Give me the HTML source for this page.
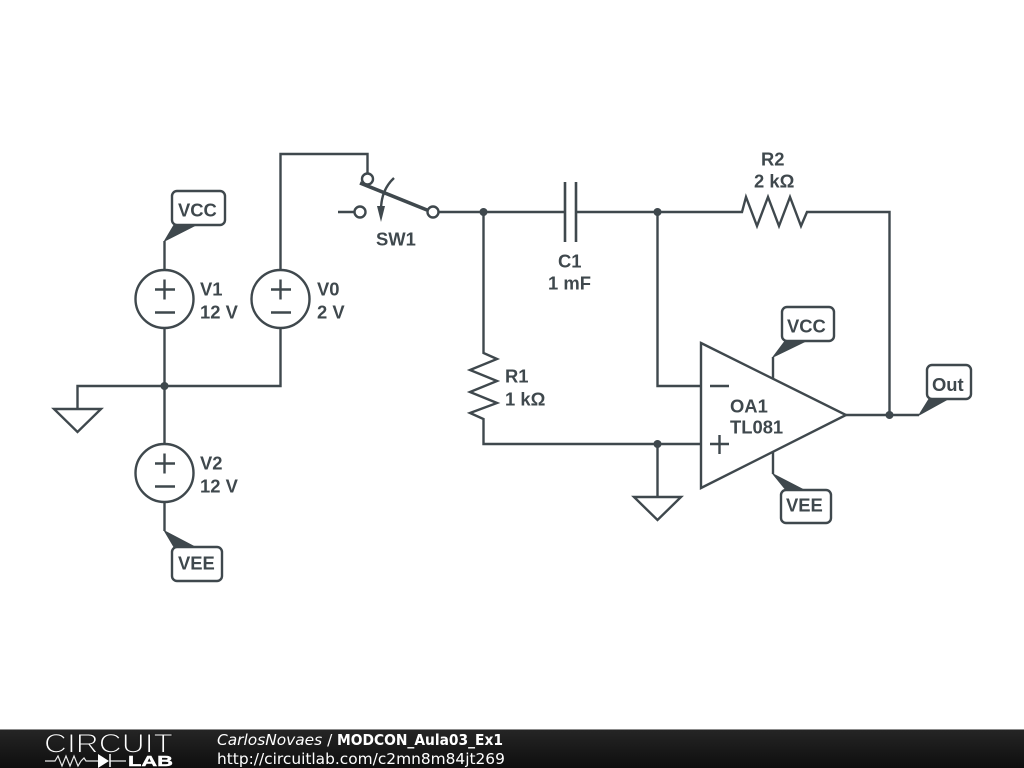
<!DOCTYPE html>
<html><head><meta charset="utf-8"><title>MODCON_Aula03_Ex1</title>
<style>html,body{margin:0;padding:0;background:#fff}svg{display:block}
.w{fill:none;stroke:#3f484d;stroke-width:2.4;stroke-linejoin:miter}
.l{font:bold 18.400px "Liberation Sans",sans-serif;fill:#3f484d}
.f{font:15.400px "DejaVu Sans",sans-serif;fill:#fff}
</style></head><body>
<svg width="1024" height="768" viewBox="0 0 1024 768" xmlns="http://www.w3.org/2000/svg">
<defs><linearGradient id="g" x1="0" y1="0" x2="0" y2="1"><stop offset="0" stop-color="#252525"/><stop offset="1" stop-color="#0e0e0e"/></linearGradient></defs>
<rect width="1024" height="768" fill="#fff"/>
<!-- wires -->
<g class="w">
<path d="M164.500 241V270M164.500 328V444M164.500 502V531M77.500 409V386H280.500V328"/>
<path d="M280.500 270V154H367.500V173"/>
<path d="M338 212H354M439 212H565M576 212H742L746 197L757 226L768 197L779 226L790 197L801 226L807 212H889.500V415"/>
<path d="M483.500 212V353L497 359L470 370L497 381L470 392L497 403L470 413L483.500 419V444H701"/>
<path d="M657.500 212V386H701M657.500 444V497"/>
<path d="M846 415H919M773 357V379M773 452V474"/>
<path d="M710 386H729M710 444H729M719.500 435V454"/>
<circle cx="164.500" cy="299" r="29"/><path d="M155 289.500H175M164.500 279.500V299.500M155 312.500H175"/>
<circle cx="280.500" cy="299" r="29"/><path d="M271 289.500H291M280.500 279.500V299.500M271 312.500H291"/>
<circle cx="164.500" cy="473" r="29"/><path d="M155 463.500H175M164.500 453.500V473.500M155 486.500H175"/>
<path d="M54 409H101L77.500 432Z"/>
<path d="M634 497H681L657.500 520Z"/>
<path d="M701 343L846 415L701 488Z"/>
<path d="M565 182V242M576 182V242" stroke-width="2.600"/>
<circle cx="367.500" cy="179" r="5.500"/><circle cx="360" cy="212" r="5.500"/><circle cx="433" cy="212" r="5.500"/>
<path d="M360 183L427 210" stroke-width="3.600"/>
<path d="M394 178Q381 190 381 210"/>
<rect x="172" y="191" width="53" height="34" rx="5"/>
<rect x="172" y="547" width="50" height="34" rx="5"/>
<rect x="782" y="307" width="52" height="34" rx="5"/>
<rect x="781" y="490" width="50" height="33" rx="5"/>
<rect x="927" y="365" width="44" height="34" rx="5"/>
</g>
<g fill="#3f484d">
<path d="M377 206H385L381 222Z"/>
<circle cx="164.500" cy="386" r="4"/><circle cx="483.500" cy="212" r="4"/><circle cx="657.500" cy="212" r="4"/><circle cx="657.500" cy="444" r="4"/><circle cx="889.500" cy="415" r="4"/>
<g stroke="#3f484d" stroke-width="1" stroke-linejoin="round">
<path d="M164.500 241L174 225H196Z"/>
<path d="M164.500 531L174 547H195Z"/>
<path d="M773 357L785 341H806Z"/>
<path d="M773 474L786 490H804Z"/>
<path d="M919 415L929 399H948Z"/>
</g>
</g>
<g class="l">
<text x="178" y="216.500">VCC</text>
<text x="178" y="569.500">VEE</text>
<text x="787" y="332.500">VCC</text>
<text x="786" y="511.500">VEE</text>
<text x="932" y="391">Out</text>
<text x="200" y="295.500">V1</text><text x="200" y="318.500">12 V</text>
<text x="317" y="295.500">V0</text><text x="317" y="318.500">2 V</text>
<text x="200" y="469.500">V2</text><text x="200" y="492.500">12 V</text>
<text x="376" y="245.500">SW1</text>
<text x="558" y="267.500">C1</text><text x="548" y="289.500">1 mF</text>
<text x="761" y="165.500">R2</text><text x="754" y="187.500">2 kΩ</text>
<text x="505" y="382.500">R1</text><text x="505" y="405.500">1 kΩ</text>
<text x="730" y="412.500">OA1</text><text x="730" y="433.500">TL081</text>
</g>
<!-- footer -->
<rect x="0" y="729" width="1024" height="1" fill="#8c8c8c"/>
<rect x="0" y="730" width="1024" height="38" fill="url(#g)"/>
<text x="44" y="752.500" font-family="Liberation Sans, sans-serif" font-size="26.500" textLength="129" lengthAdjust="spacingAndGlyphs" fill="#fff" stroke="#1c1c1c" stroke-width="1.100">CIRCUIT</text>
<text x="128" y="766" font-family="Liberation Sans, sans-serif" font-weight="bold" font-size="15" textLength="45" lengthAdjust="spacingAndGlyphs" fill="#fff" stroke="#fff" stroke-width="0.400">LAB</text>
<path d="M45 761H55L58 756L62 766L66 756L70 766L74 756L78 766L81 761L84 758L86 761H98M110 761H126" fill="none" stroke="#e8e8e8" stroke-width="1.200"/>
<path d="M98 754L109 761L98 768Z" fill="#fff"/><path d="M110 754V767" stroke="#fff" stroke-width="1.500"/>
<text class="f" x="217" y="745"><tspan font-style="italic">CarlosNovaes</tspan> /</text>
<text class="f" x="337" y="745" style="font-weight:bold" textLength="166" lengthAdjust="spacingAndGlyphs">MODCON_Aula03_Ex1</text>
<text class="f" x="217" y="764">http://circuitlab.com/c2mn8m84jt269</text>
</svg>
</body></html>
